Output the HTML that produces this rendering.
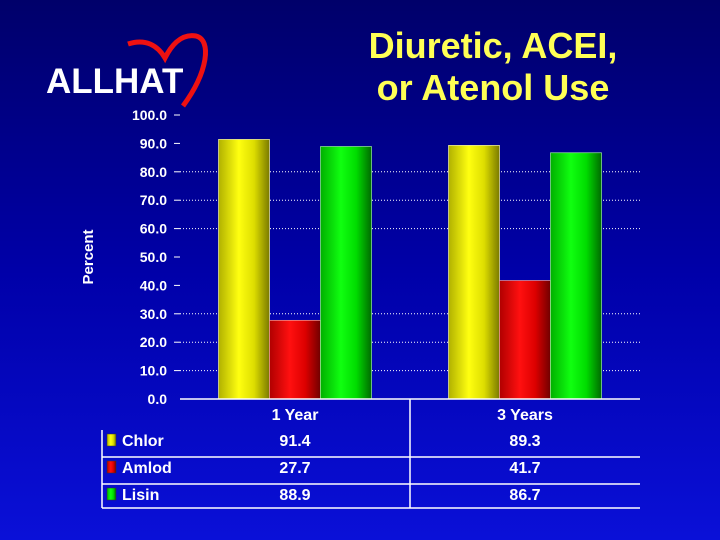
<!DOCTYPE html>
<html><head><meta charset="utf-8"><style>
html,body{margin:0;padding:0;width:720px;height:540px;overflow:hidden}
body{background:linear-gradient(#00006a,#0000a8 50%,#0a10d8);font-family:"Liberation Sans",sans-serif}
svg{display:block}
</style></head><body>
<svg id="c" width="720" height="540" xmlns="http://www.w3.org/2000/svg">
<defs>
<linearGradient id="gy" x1="0" x2="1"><stop offset="0" stop-color="#b0b000"/><stop offset="0.4" stop-color="#ffff10"/><stop offset="0.7" stop-color="#dddd00"/><stop offset="1" stop-color="#7a7a00"/></linearGradient>
<linearGradient id="gr" x1="0" x2="1"><stop offset="0" stop-color="#b00000"/><stop offset="0.4" stop-color="#ff1010"/><stop offset="0.7" stop-color="#dd0000"/><stop offset="1" stop-color="#700000"/></linearGradient>
<linearGradient id="gg" x1="0" x2="1"><stop offset="0" stop-color="#00b000"/><stop offset="0.4" stop-color="#10ff10"/><stop offset="0.7" stop-color="#00dd00"/><stop offset="1" stop-color="#006a00"/></linearGradient>
</defs>
<path d="M183 106 C208 72 212 40 196 36 C180 33 170 48 165 58 C158 46 146 38 128 44" fill="none" stroke="#ee1111" stroke-width="5"/>
<text x="46" y="93" fill="#fff" font-size="35" font-weight="bold">ALLHAT</text>
<text x="493" y="58" fill="#ffff55" font-size="36" font-weight="bold" text-anchor="middle">Diuretic, ACEI,</text>
<text x="493" y="100" fill="#ffff55" font-size="36" font-weight="bold" text-anchor="middle">or Atenol Use</text>
<text transform="translate(93,257) rotate(-90)" fill="#fff" font-size="15" font-weight="bold" text-anchor="middle">Percent</text>
<g id="grid"></g><g id="bars"></g><g id="tbl"></g>
</svg>
<script>
const categories=["1 Year","3 Years"];
const series=["Chlor","Amlod","Lisin"];
const chlor=[91.4,89.3];
const amlod=[27.7,41.7];
const lisin=[88.9,86.7];
const ticks=[0,10,20,30,40,50,60,70,80,90,100];
const tickLabels=["0.0","10.0","20.0","30.0","40.0","50.0","60.0","70.0","80.0","90.0","100.0"];
const gridTicks=[10,20,30,60,70,80];
const NS="http://www.w3.org/2000/svg";
const X0=180,X1=640,Y0=399,YT=115;
const y=v=>Y0-(v/100)*(Y0-YT);
const cw=(X1-X0)/categories.length;
function mk(t,a,p){const e=document.createElementNS(NS,t);for(const k in a)e.setAttribute(k,a[k]);p.appendChild(e);return e;}
const grid=document.getElementById('grid'),bars=document.getElementById('bars'),tbl=document.getElementById('tbl');
ticks.forEach((v,i)=>{
 const t=mk('text',{x:167,y:y(v)+5,fill:'#fff','font-size':14,'font-weight':'bold','text-anchor':'end'},grid);t.textContent=tickLabels[i];
 
 
 if(v>0){const tk=mk('line',{x1:174,x2:180,y1:y(v),y2:y(v),stroke:'#fff','stroke-width':1},grid);
 
 }
});
gridTicks.forEach(v=>{
 const g=mk('line',{x1:X0,x2:X1,y1:y(v),y2:y(v),stroke:'#fff','stroke-width':1,'stroke-dasharray':'1,2'},grid);
 
 
});
const vals=[chlor,amlod,lisin],fills=['url(#gy)','url(#gr)','url(#gg)'],strokes=['#eeeeaa','#ee9999','#99ee99'];
const bw=51;
categories.forEach((c,ci)=>{
 const start=X0+ci*cw+(cw-3*bw)/2;
 vals.forEach((s,si)=>{
  const r=mk('rect',{x:start+si*bw,y:y(s[ci]),width:bw,height:Y0-y(s[ci]),fill:fills[si],stroke:strokes[si],'stroke-width':0.7},bars);
  
  
 });
 const t=mk('text',{x:X0+ci*cw+cw/2,y:420,fill:'#fff','font-size':16,'font-weight':'bold','text-anchor':'middle'},tbl);t.textContent=c;
 
 
});
const ax=mk('line',{x1:X0,x2:X1,y1:Y0,y2:Y0,stroke:'#fff','stroke-width':1.5},tbl);


[[102,430,102,508],[410,399,410,508],[102,457,640,457],[102,484,640,484],[102,508,640,508]].forEach(l=>{
 const e=mk('line',{x1:l[0],y1:l[1],x2:l[2],y2:l[3],stroke:'#fff','stroke-width':1.5},tbl);
 
 
});
const rowY=[446,473,500];
series.forEach((s,si)=>{
 const sw=mk('rect',{x:107,y:rowY[si]-12,width:9,height:12,fill:fills[si],stroke:'#333','stroke-width':0.5},tbl);
 
 
 const t=mk('text',{x:122,y:rowY[si],fill:'#fff','font-size':16,'font-weight':'bold'},tbl);t.textContent=s;
 
 
 categories.forEach((c,ci)=>{
  const v=mk('text',{x:X0+ci*cw+cw/2,y:rowY[si],fill:'#fff','font-size':16,'font-weight':'bold','text-anchor':'middle'},tbl);v.textContent=vals[si][ci].toFixed(1);
  
  
 });
});
</script>
</body></html>
